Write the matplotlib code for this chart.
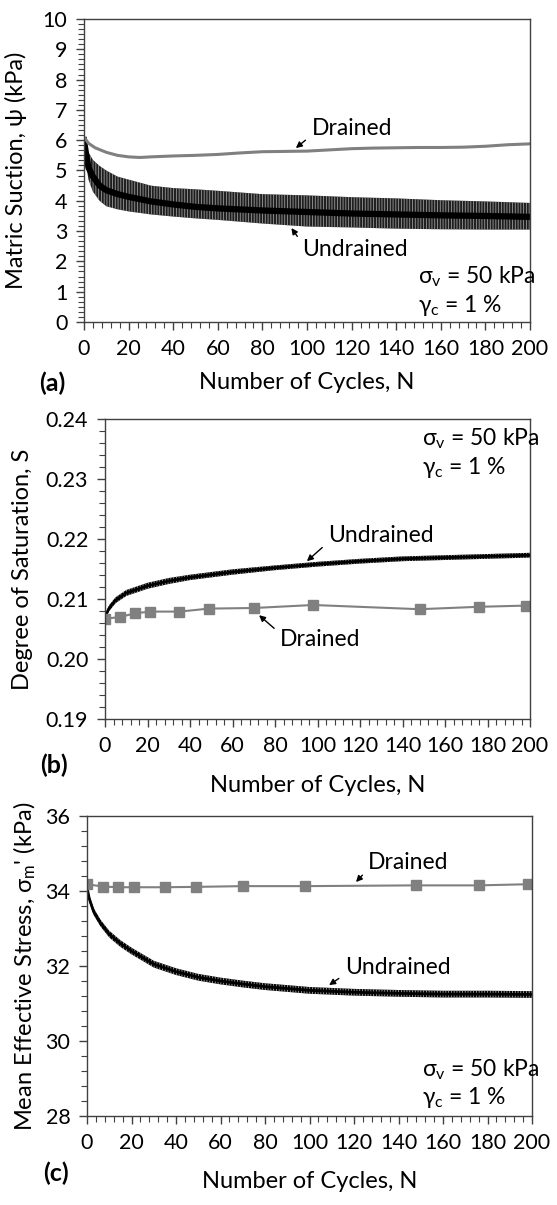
import numpy as np
import matplotlib
matplotlib.use("Agg")
import matplotlib.pyplot as plt
from matplotlib.ticker import MultipleLocator, FormatStrFormatter

plt.rcParams['font.family'] = ['Lato', 'DejaVu Sans']
plt.rcParams['mathtext.fontset'] = 'custom'
plt.rcParams['mathtext.rm'] = 'Lato'
plt.rcParams['mathtext.it'] = 'Lato:italic'
plt.rcParams['hatch.linewidth'] = 0.6
FS = 17        # axis labels
FS_TICK = 15.5 # tick labels
FS_NOTE = 16.5 # annotations

#%% data
# (a) matric suction
a_drained_n = [0, 2, 5, 10, 15, 20, 25, 30, 40, 50, 60, 70, 80, 90, 100, 110, 120,
               130, 140, 150, 160, 170, 180, 190, 200]
a_drained = [6.1, 5.9, 5.75, 5.6, 5.5, 5.45, 5.43, 5.45, 5.48, 5.5, 5.53, 5.58, 5.62,
             5.63, 5.64, 5.68, 5.72, 5.74, 5.75, 5.76, 5.76, 5.77, 5.8, 5.85, 5.88]
a_undr_n = [0, 1, 2, 4, 7, 10, 15, 20, 30, 40, 50, 60, 80, 100, 120, 140, 160, 180, 200]
a_undr_hi = [6.05, 5.9, 5.6, 5.35, 5.15, 5.0, 4.8, 4.7, 4.5, 4.42, 4.38, 4.33, 4.22,
             4.18, 4.12, 4.08, 4.02, 3.98, 3.93]
a_undr_lo = [5.95, 5.2, 4.7, 4.3, 4.0, 3.82, 3.72, 3.65, 3.55, 3.48, 3.42, 3.37, 3.25,
             3.15, 3.12, 3.08, 3.06, 3.05, 3.05]
a_undr_mid = [6.0, 5.5, 5.1, 4.8, 4.5, 4.35, 4.22, 4.13, 3.98, 3.88, 3.8, 3.75, 3.68,
              3.63, 3.58, 3.55, 3.52, 3.5, 3.47]

# (b) degree of saturation
b_drained_n = [0, 7, 14, 21, 35, 49, 70, 98, 148, 176, 198]
b_drained = [0.2067, 0.2070, 0.2076, 0.2079, 0.2079, 0.2084, 0.2085, 0.2090,
             0.2083, 0.2087, 0.2089]
b_undr_n = [0, 1, 2, 5, 10, 20, 30, 40, 60, 80, 100, 120, 140, 160, 180, 200]
b_undr_mid = [0.2068, 0.2078, 0.2085, 0.2098, 0.2110, 0.2122, 0.2130, 0.2136, 0.2145,
              0.2152, 0.2158, 0.2163, 0.2167, 0.2169, 0.2171, 0.2173]
b_undr_half = [0.0002, 0.0004, 0.0005, 0.0005, 0.0005, 0.0005, 0.0005, 0.00045, 0.00045,
               0.0004, 0.0004, 0.0004, 0.0004, 0.0004, 0.0004, 0.0004]

# (c) mean effective stress
c_drained_n = [0, 7, 14, 21, 35, 49, 70, 98, 148, 176, 198]
c_drained = [34.18, 34.12, 34.10, 34.10, 34.10, 34.11, 34.13, 34.13, 34.15, 34.15, 34.18]
c_undr_n = [0, 1, 3, 6, 10, 15, 20, 30, 40, 50, 60, 70, 80, 100, 120, 140, 160, 180, 200]
c_undr_mid = [34.1, 33.8, 33.45, 33.15, 32.85, 32.6, 32.4, 32.05, 31.85, 31.7, 31.6,
              31.52, 31.45, 31.35, 31.3, 31.27, 31.25, 31.25, 31.24]
c_undr_half = 0.09

cond_text = r'σ$_\mathregular{v}$ = 50 kPa'
strain_text = r'γ$_\mathregular{c}$ = 1 %'
xlab = 'Number of Cycles, N'

GRAY = '#808080'
W, H = 557, 1205

fig = plt.figure(figsize=(W / 100, H / 100), dpi=100)


def make_axes(left, top, right, bottom):
    return fig.add_axes([left / W, 1 - bottom / H, (right - left) / W, (bottom - top) / H])


def style(ax, ymin, ymax, ymaj, ymin_step, xlab_y, ylab_x):
    ax.set_xlim(0, 200)
    ax.set_ylim(ymin, ymax)
    ax.xaxis.set_major_locator(MultipleLocator(20))
    ax.xaxis.set_minor_locator(MultipleLocator(4))
    ax.yaxis.set_major_locator(MultipleLocator(ymaj))
    ax.yaxis.set_minor_locator(MultipleLocator(ymin_step))
    ax.tick_params(which='both', direction='out', top=False, right=False,
                   color='#404040', labelsize=FS_TICK)
    ax.tick_params(which='major', length=6, width=1, pad=6)
    ax.tick_params(which='minor', length=4, width=0.8)
    for s in ax.spines.values():
        s.set_color('#404040')
        s.set_linewidth(1)
    ax.set_xlabel(xlab, fontsize=FS)
    ax.xaxis.label.set_va('center')
    ax.xaxis.set_label_coords(0.5, xlab_y)
    ax.yaxis.label.set_va('center')
    ax.yaxis.set_label_coords(ylab_x, 0.5)


def note(ax, text, xy, xytext, relpos):
    ax.annotate(text, xy=xy, xytext=xytext, fontsize=FS_NOTE, va='center',
                arrowprops=dict(arrowstyle='-|>', color='black', lw=1.0,
                                mutation_scale=9, shrinkA=3, shrinkB=0, relpos=relpos))


#%% (a)
ax = make_axes(84, 19, 530, 322)
ax.fill_between(a_undr_n, a_undr_lo, a_undr_hi, facecolor='#1e1e1e', edgecolor='#9a9a9a',
                hatch='||||||', linewidth=0)
ax.plot(a_undr_n, a_undr_mid, color='black', lw=4.5)
ax.plot(a_drained_n, a_drained, color=GRAY, lw=2.2)
ax.set_ylabel('Matric Suction, ψ (kPa)', fontsize=FS)
style(ax, 0, 10, 1, 1 / 6, -0.2, -0.152)
note(ax, 'Drained', (95, 5.74), (102, 6.37), (0, 0.2))
note(ax, 'Undrained', (93, 3.1), (98, 2.38), (0, 0.8))
ax.text(150, 1.49, cond_text, fontsize=FS_NOTE, va='center')
ax.text(150, 0.56, strain_text, fontsize=FS_NOTE, va='center')
fig.text(39 / W, 1 - 383 / H, '(a)', fontsize=FS + 1, fontweight='bold', va='center')

#%% (b)
ax = make_axes(105, 419, 530, 719)
mid = np.array(b_undr_mid)
half = np.array(b_undr_half)
ax.fill_between(b_undr_n, mid - half, mid + half, facecolor='black', edgecolor='#aaaaaa',
                hatch='||||||', linewidth=0)
ax.plot(b_undr_n, b_undr_mid, color='black', lw=2)
ax.plot(b_drained_n, b_drained, color=GRAY, lw=1.5, marker='s', markersize=7)
ax.set_ylabel('Degree of Saturation, S', fontsize=FS)
ax.yaxis.set_major_formatter(FormatStrFormatter('%.2f'))
style(ax, 0.19, 0.24, 0.01, 0.002, -0.22, -0.193)
note(ax, 'Undrained', (95, 0.2163), (105, 0.2205), (0, 0.2))
note(ax, 'Drained', (72.5, 0.2073), (82.4, 0.2032), (0, 0.8))
ax.text(149, 0.2368, cond_text, fontsize=FS_NOTE, va='center')
ax.text(149, 0.2320, strain_text, fontsize=FS_NOTE, va='center')
fig.text(40 / W, 1 - 765 / H, '(b)', fontsize=FS + 1, fontweight='bold', va='center')

#%% (c)
ax = make_axes(87, 816, 532, 1116)
mid = np.array(c_undr_mid)
ax.fill_between(c_undr_n, mid - c_undr_half, mid + c_undr_half, facecolor='black',
                edgecolor='#aaaaaa', hatch='||||||', linewidth=0)
ax.plot(c_undr_n, c_undr_mid, color='black', lw=2)
ax.plot(c_drained_n, c_drained, color=GRAY, lw=1.5, marker='s', markersize=7)
ax.set_ylabel(r"Mean Effective Stress, σ$_\mathregular{m}$' (kPa)", fontsize=FS)
style(ax, 28, 36, 2, 0.4, -0.22, -0.14)
note(ax, 'Drained', (120.9, 34.24), (126.3, 34.75), (0, 0.2))
note(ax, 'Undrained', (108.8, 31.49), (116, 31.95), (0, 0.2))
ax.text(150.6, 29.23, cond_text, fontsize=FS_NOTE, va='center')
ax.text(150.6, 28.48, strain_text, fontsize=FS_NOTE, va='center')
fig.text(43 / W, 1 - 1173 / H, '(c)', fontsize=FS + 1, fontweight='bold', va='center')

fig.savefig('out.png', dpi=100)
